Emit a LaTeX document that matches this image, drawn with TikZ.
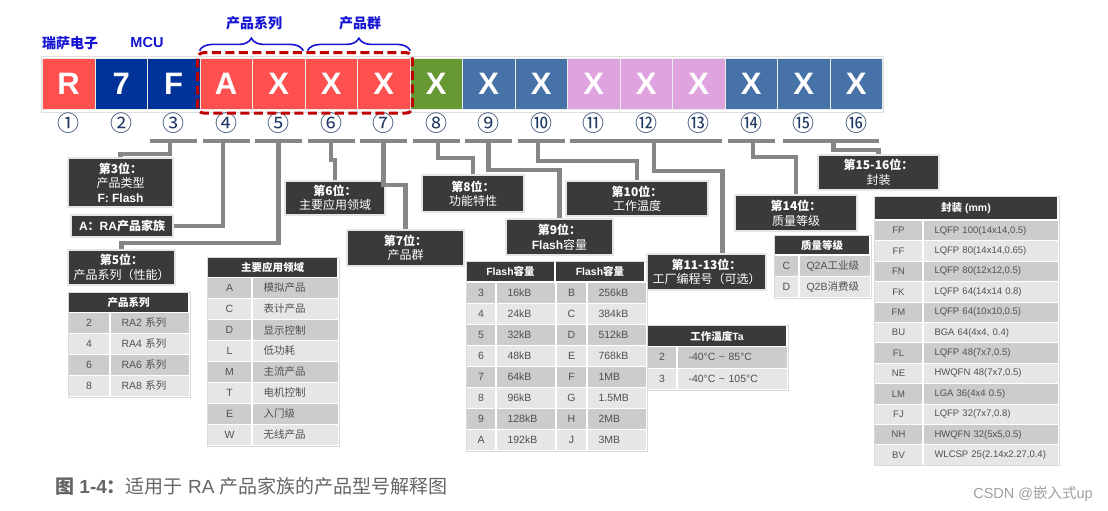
\documentclass[tikz,border=0pt]{standalone}
\usepackage{fontspec}
\setmainfont{Liberation Sans}
\newfontfamily\cjk{Noto Sans CJK SC}
\newfontfamily\arial{Liberation Sans}
\usetikzlibrary{positioning,calc,decorations.pathreplacing}
\definecolor{rsred}{HTML}{FF5050}
\definecolor{rsnavy}{HTML}{003399}
\definecolor{rsgreen}{HTML}{669933}
\definecolor{rsblue}{HTML}{4672A8}
\definecolor{rspink}{HTML}{DFA3DF}
\definecolor{rsdash}{HTML}{C00000}
\definecolor{rslabel}{HTML}{1414D2}
\definecolor{rsnum}{HTML}{1F3864}
\definecolor{boxdark}{HTML}{3A3A3A}
\definecolor{rowdark}{HTML}{CCCCCC}
\definecolor{rowlight}{HTML}{E6E6E6}
\definecolor{celltxt}{HTML}{505050}
\definecolor{linkgray}{HTML}{868686}
\definecolor{captgray}{HTML}{666666}

\tikzset{
  digit/.style={minimum width=52.5pt, minimum height=51.5pt, inner sep=0pt,
    draw=white!85!gray, line width=0.8pt, text=white,
    font=\fontsize{31}{31}\selectfont\bfseries},
  circnum/.style={text=rsnum, inner sep=0pt, font=\cjk\fontsize{22}{22}\selectfont},
  toplabel/.style={text=rslabel, inner sep=0pt, font=\cjk\fontsize{14}{14}\selectfont\bfseries},
  link/.style={draw=linkgray, line width=4.5pt},
  infobox/.style={fill=boxdark, draw=gray!20, line width=1.2pt, text=white,
    align=center, inner sep=0pt, font=\cjk\fontsize{12}{14.5}\selectfont},
  thead/.style={fill=boxdark, draw=white, line width=1pt, text=white, inner sep=0pt,
    font=\fontsize{10.5}{12}\selectfont\bfseries},
  tcell/.style={draw=white, line width=1pt, text=celltxt, inner sep=0pt,
    font=\fontsize{10.5}{12}\selectfont},
  lcell/.style={tcell, align=left, inner xsep=11pt, text width=#1},
  tframe/.style={draw=gray!30, line width=1pt},
}

\begin{document}
\begin{tikzpicture}[x=1pt, y=-1pt]
  \useasboundingbox (0,0) rectangle (1108,511);
  \fill[white] (0,0) rectangle (1108,511);

  % code row
  \draw[gray!25, line width=1pt] (41,56.5) rectangle (883,112);
  \foreach \i/\ch/\col in {1/R/rsred, 2/7/rsnavy, 3/F/rsnavy, 4/A/rsred, 5/X/rsred,
      6/X/rsred, 7/X/rsred, 8/X/rsgreen, 9/X/rsblue, 10/X/rsblue, 11/X/rspink,
      12/X/rspink, 13/X/rspink, 14/X/rsblue, 15/X/rsblue, 16/X/rsblue}
    \node[digit, fill=\col, anchor=north west] (c\i) at ({42+(\i-1)*52.5}, 57.7) {\ch};
  \foreach \i/\s in {1/①, 2/②, 3/③, 4/④, 5/⑤, 6/⑥, 7/⑦, 8/⑧, 9/⑨, 10/⑩,
      11/⑪, 12/⑫, 13/⑬, 14/⑭, 15/⑮, 16/⑯}
    \node[circnum] (n\i) at ($(c\i.center)+(0,39.5)$) {\s};

  % labels above
  \node[toplabel] (lbl-rs) at (70,43) {瑞萨电子};
  \node[toplabel, font=\fontsize{14.5}{14.5}\selectfont\bfseries] (lbl-mcu) at (147,43) {MCU};
  \draw[rslabel, line width=1.6pt, decorate, decoration={brace, amplitude=12.5pt}]
    ($(c4.north west)+(0,-7)$) -- ($(c5.north east)+(-2,-7)$);
  \draw[rslabel, line width=1.6pt, decorate, decoration={brace, amplitude=12.5pt}]
    ($(c6.north west)+(3,-7)$) -- ($(c7.north east)+(0,-7)$);
  \node[toplabel] (lbl-ser) at (254,23) {产品系列};
  \node[toplabel] (lbl-grp) at (360,23) {产品群};
  \draw[rsdash, line width=3pt, dash pattern=on 9pt off 4.5pt, rounded corners=6pt]
    ($(c4.north west)+(-2,-5)$) rectangle ($(c7.south east)+(2,3)$);

  % bars under the numbers
  \coordinate (bar) at (0,141);
  \foreach \i in {3,4,5,6,7,8,9,10,14}
    \draw[link] ($(c\i.west |- bar)+(3,0)$) -- ($(c\i.east |- bar)+(-3,0)$);
  \draw[link] ($(c11.west |- bar)+(3,0)$) -- ($(c13.east |- bar)+(-3,0)$);
  \draw[link] ($(c15.west |- bar)+(6,0)$) -- ($(c16.east |- bar)+(-4,0)$);

  % info boxes
  \node[infobox, minimum width=105pt, minimum height=49pt] (box3) at (120.5,182.5)
    {{\bfseries 第3位：}\\产品类型\\{\arial\bfseries F: Flash}};
  \node[infobox, minimum width=102pt, minimum height=22pt, font=\cjk\fontsize{12}{14}\selectfont\bfseries] (box4) at (122,226)
    {{\arial\bfseries A}：{\arial\bfseries RA}产品家族};
  \node[infobox, minimum width=107pt, minimum height=35pt] (box5) at (121.5,267.5)
    {{\bfseries 第5位：}\\产品系列（性能）};
  \node[infobox, minimum width=100pt, minimum height=34pt] (box6) at (335,198)
    {{\bfseries 第6位：}\\主要应用领域};
  \node[infobox, minimum width=117pt, minimum height=36pt] (box7) at (405.5,248)
    {{\bfseries 第7位：}\\产品群};
  \node[infobox, minimum width=102pt, minimum height=37pt] (box8) at (473,193.5)
    {{\bfseries 第8位：}\\功能特性};
  \node[infobox, minimum width=107pt, minimum height=36pt] (box9) at (559.5,237)
    {{\bfseries 第9位：}\\{\arial\bfseries Flash}容量};
  \node[infobox, minimum width=142pt, minimum height=35pt] (box10) at (637,198.5)
    {{\bfseries 第10位：}\\工作温度};
  \node[infobox, minimum width=119pt, minimum height=36pt] (box11) at (706.5,272)
    {{\bfseries 第11-13位：}\\工厂编程号（可选）};
  \node[infobox, minimum width=122pt, minimum height=36pt] (box14) at (796,213)
    {{\bfseries 第14位：}\\质量等级};
  \node[infobox, minimum width=121pt, minimum height=35pt] (box15) at (878.5,172.5)
    {{\bfseries 第15-16位：}\\封装};

  % connectors
  \draw[link] ($(c3.center |- bar)+(-3.5,0)$) -- ++(0,13) -| (box3.north);
  \draw[link] ($(c4.center |- bar)+(-3,0)$) |- (box4.east);
  \draw[link] (c5.center |- bar) -- ++(0,102) -| (box5.north);
  \draw[link] (c6.center |- bar) -- ++(0,19) -| (box6.north);
  \draw[link] (c7.center |- bar) -- ++(0,44) -| (box7.north);
  \draw[link] ($(c8.center |- bar)+(2,0)$) -- ++(0,17) -| (box8.north);
  \draw[link] (c9.center |- bar) -- ++(0,29) -| (box9.north);
  \draw[link] ($(c10.center |- bar)+(-3,0)$) -- ++(0,20) -| (box10.north);
  \draw[link] ($(c12.center |- bar)+(8,0)$) -- ++(0,30) -| ([xshift=16pt]box11.north);
  \draw[link] ($(c14.center |- bar)+(2,0)$) -- ++(0,16) -| (box14.north);
  \draw[link] ($(c15.east |- bar)+(3,0)$) -- ++(0,9) -| (box15.north);

  % table: 产品系列
  \node[thead, minimum width=120pt, minimum height=20pt, anchor=north west] (ps-h) at (68,292) {{\cjk 产品系列}};
  \foreach \k/\a [evaluate=\k as \pct using {int(100*(1-mod(\k,2)))}] in {0/2, 1/4, 2/6, 3/8} {
    \node[tcell, fill=rowdark!\pct!rowlight, minimum width=41pt, minimum height=21pt, anchor=north west] (ps-a\k) at (68,{312+21*\k}) {\a};
    \node[lcell=57pt, fill=rowdark!\pct!rowlight, minimum height=21pt, anchor=west] (ps-b\k) at (ps-a\k.east) {RA\a\ {\cjk 系列}};
  }
  \draw[tframe] (ps-h.north west) rectangle (ps-b3.south east);

  % table: 主要应用领域
  \node[thead, minimum width=130pt, minimum height=20pt, anchor=north west] (ap-h) at (207,257) {{\cjk 主要应用领域}};
  \foreach \k/\a/\b [evaluate=\k as \pct using {int(100*(1-mod(\k,2)))}] in {0/A/模拟产品, 1/C/表计产品,
      2/D/显示控制, 3/L/低功耗, 4/M/主流产品, 5/T/电机控制, 6/E/入门级, 7/W/无线产品} {
    \node[tcell, fill=rowdark!\pct!rowlight, minimum width=44pt, minimum height=21pt, anchor=north west] (ap-a\k) at (207,{277+21*\k}) {\a};
    \node[lcell=64pt, fill=rowdark!\pct!rowlight, minimum height=21pt, anchor=west] (ap-b\k) at (ap-a\k.east) {{\cjk \b}};
  }
  \draw[tframe] (ap-h.north west) rectangle (ap-b7.south east);

  % table: Flash容量
  \node[thead, minimum width=88pt, minimum height=20pt, anchor=north west] (fl-h1) at (466,261) {Flash{\cjk 容量}};
  \node[thead, minimum width=89pt, minimum height=20pt, anchor=west] (fl-h2) at (fl-h1.east) {Flash{\cjk 容量}};
  \foreach \k/\a/\b/\c/\d [evaluate=\k as \pct using {int(100*(1-mod(\k,2)))}] in {0/3/16kB/B/256kB,
      1/4/24kB/C/384kB, 2/5/32kB/D/512kB, 3/6/48kB/E/768kB, 4/7/64kB/F/1MB,
      5/8/96kB/G/1.5MB, 6/9/128kB/H/2MB, 7/A/192kB/J/3MB} {
    \node[tcell, fill=rowdark!\pct!rowlight, minimum width=29pt, minimum height=21pt, anchor=north west] (fl-a\k) at (466,{282+21*\k}) {\a};
    \node[lcell=37pt, fill=rowdark!\pct!rowlight, minimum height=21pt, anchor=west] (fl-b\k) at (fl-a\k.east) {\b};
    \node[tcell, fill=rowdark!\pct!rowlight, minimum width=30pt, minimum height=21pt, anchor=west] (fl-c\k) at (fl-b\k.east) {\c};
    \node[lcell=37pt, fill=rowdark!\pct!rowlight, minimum height=21pt, anchor=west] (fl-d\k) at (fl-c\k.east) {\d};
  }
  \draw[tframe] (fl-h1.north west) rectangle (fl-d7.south east);

  % table: 工作温度Ta
  \node[thead, minimum width=139pt, minimum height=21pt, anchor=north west] (tp-h) at (647,325) {{\cjk 工作温度}Ta};
  \foreach \k/\a/\b [evaluate=\k as \pct using {int(100*(1-mod(\k,2)))}] in {0/2/-40°C \textasciitilde\ 85°C, 1/3/-40°C \textasciitilde\ 105°C} {
    \node[tcell, fill=rowdark!\pct!rowlight, minimum width=29pt, minimum height=21.5pt, anchor=north west] (tp-a\k) at (647,{346+21.5*\k}) {\a};
    \node[lcell=88pt, fill=rowdark!\pct!rowlight, minimum height=21.5pt, anchor=west] (tp-b\k) at (tp-a\k.east) {\b};
  }
  \draw[tframe] (tp-h.north west) rectangle (tp-b1.south east);

  % table: 质量等级
  \node[thead, minimum width=95pt, minimum height=19pt, anchor=north west] (qa-h) at (774,235) {{\cjk 质量等级}};
  \foreach \k/\a/\b [evaluate=\k as \pct using {int(100*(1-mod(\k,2)))}] in {0/C/Q2A{\cjk 工业级}, 1/D/Q2B{\cjk 消费级}} {
    \node[tcell, fill=rowdark!\pct!rowlight, minimum width=24pt, minimum height=21pt, anchor=north west] (qa-a\k) at (774,{255+21*\k}) {\a};
    \node[lcell=57pt, inner xsep=7pt, fill=rowdark!\pct!rowlight, minimum height=21pt, anchor=west] (qa-b\k) at (qa-a\k.east) {\b};
  }
  \draw[tframe] (qa-h.north west) rectangle (qa-b1.south east);

  % table: 封装 (mm)
  \node[thead, minimum width=183pt, minimum height=23pt, anchor=north west] (pk-h) at (874,196) {{\cjk 封装} (mm)};
  \foreach \k/\a/\b [evaluate=\k as \pct using {int(100*(1-mod(\k,2)))}] in {0/FP/{LQFP 100(14x14,0.5)},
      1/FF/{LQFP 80(14x14,0.65)}, 2/FN/{LQFP 80(12x12,0.5)}, 3/FK/{LQFP 64(14x14 0.8)},
      4/FM/{LQFP 64(10x10,0.5)}, 5/BU/{BGA 64(4x4, 0.4)}, 6/FL/{LQFP 48(7x7,0.5)},
      7/NE/{HWQFN 48(7x7,0.5)}, 8/LM/{LGA 36(4x4 0.5)}, 9/FJ/{LQFP 32(7x7,0.8)},
      10/NH/{HWQFN 32(5x5,0.5)}, 11/BV/{WLCSP 25(2.14x2.27,0.4)}} {
    \node[tcell, font=\fontsize{9.5}{11}\selectfont, fill=rowdark!\pct!rowlight, minimum width=48pt, minimum height=20.4pt, anchor=north west] (pk-a\k) at (874,{220+20.4*\k}) {\a};
    \node[lcell=113pt, font=\fontsize{9.5}{11}\selectfont, fill=rowdark!\pct!rowlight, minimum height=20.4pt, anchor=west] (pk-b\k) at (pk-a\k.east) {\b};
  }
  \draw[tframe] (pk-h.north west) rectangle (pk-b11.south east);

  % caption and mark
  \node[anchor=west, inner sep=0pt, text=captgray, font=\fontsize{19}{19}\selectfont] (capt) at (55,486)
    {{\bfseries{\cjk 图} 1-4{\cjk ：}}{\cjk 适用于} RA {\cjk 产品家族的产品型号解释图}};
  \node[anchor=east, inner sep=0pt, text=gray!75, font=\fontsize{14.5}{14.5}\selectfont] (mark) at (1093,494)
    {CSDN @{\cjk 嵌入式}up};
\end{tikzpicture}
\end{document}
